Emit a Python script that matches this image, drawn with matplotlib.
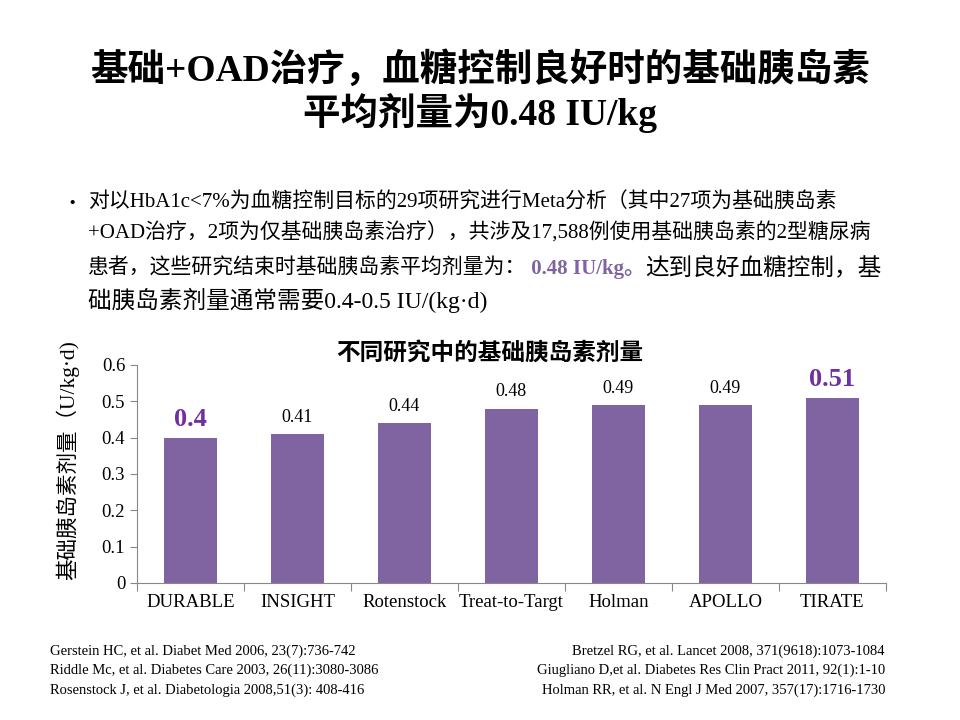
import matplotlib
matplotlib.use("Agg")
import matplotlib.pyplot as plt

# data
studies = ["DURABLE", "INSIGHT", "Rotenstock", "Treat-to-Targt", "Holman", "APOLLO", "TIRATE"]
doses = [0.4, 0.41, 0.44, 0.48, 0.49, 0.49, 0.51]
highlight = [True, False, False, False, False, False, True]
yticks = [0, 0.1, 0.2, 0.3, 0.4, 0.5, 0.6]
refs_left = ["Gerstein HC, et al. Diabet Med 2006, 23(7):736-742",
             "Riddle Mc, et al. Diabetes Care 2003, 26(11):3080-3086",
             "Rosenstock J, et al. Diabetologia 2008,51(3): 408-416"]
refs_right = ["Bretzel RG, et al. Lancet 2008, 371(9618):1073-1084",
              "Giugliano D,et al. Diabetes Res Clin Pract 2011, 92(1):1-10",
              "Holman RR, et al. N Engl J Med 2007, 357(17):1716-1730"]

FAM = ["Liberation Serif", "Noto Sans CJK SC"]
SANS = ["Noto Sans CJK SC", "DejaVu Sans"]
PURPLE = "#8064A2"
DARKP = "#7030A0"
plt.rcParams["font.family"] = FAM

fig = plt.figure(figsize=(9.6, 7.2), dpi=100)
bg = fig.add_axes([0, 0, 1, 1])
bg.set_axis_off()
bg.set_xlim(0, 960)
bg.set_ylim(720, 0)

# title
bg.text(480, 70, "基础+OAD治疗，血糖控制良好时的基础胰岛素", ha="center", va="center",
        fontsize=27, fontweight="bold")
bg.text(480, 113, "平均剂量为0.48 IU/kg", ha="center", va="center",
        fontsize=27, fontweight="bold")

# bullet text
bg.text(62, 203, "•", ha="left", va="center", fontsize=14, family=SANS)
bg.text(88, 203, "对以HbA1c<7%为血糖控制目标的29项研究进行Meta分析（其中27项为基础胰岛素",
        ha="left", va="center", fontsize=15)
bg.text(88, 233, "+OAD治疗，2项为仅基础胰岛素治疗），共涉及17,588例使用基础胰岛素的2型糖尿病",
        ha="left", va="center", fontsize=15)
t1 = bg.text(88, 274, "患者，这些研究结束时基础胰岛素平均剂量为：", ha="left", va="baseline",
             fontsize=15)
t2 = bg.annotate(" 0.48 IU/kg。", xy=(1, 0), xycoords=t1, va="bottom", ha="left",
                 fontsize=15, fontweight="bold", color=PURPLE)
bg.annotate("达到良好血糖控制，基", xy=(1, 0), xycoords=t2, va="bottom", ha="left",
            fontsize=17)
bg.text(88, 300, "础胰岛素剂量通常需要0.4-0.5 IU/(kg·d)", ha="left", va="center",
        fontsize=17)

# chart
ax = fig.add_axes([0.1427, 0.1903, 0.780, 0.3028])
x = range(len(studies))
ax.bar(x, doses, width=0.5, color=PURPLE)
for i, (v, hl) in enumerate(zip(doses, highlight)):
    if hl:
        ax.annotate(f"{v:g}", (i, v), xytext=(0, 5), textcoords="offset points",
                    ha="center", va="bottom", fontsize=19, fontweight="bold", color=DARKP)
    else:
        ax.annotate(f"{v:g}", (i, v), xytext=(0, 6), textcoords="offset points",
                    ha="center", va="bottom", fontsize=13)

ax.set_xlim(-0.5, len(studies) - 0.5)
ax.set_ylim(0, 0.6)
ax.set_yticks(yticks)
ax.set_yticklabels([f"{t:g}" for t in yticks], fontsize=13.5)
ax.set_xticks([i - 0.5 for i in range(len(studies) + 1)])
ax.set_xticklabels([])
ax.set_xticks(list(x), minor=True)
ax.set_xticklabels(studies, minor=True, fontsize=13.5)
ax.tick_params(axis="x", which="minor", length=0, pad=8)
ax.tick_params(axis="x", which="major", length=6, color="#888888")
ax.tick_params(axis="y", length=5, color="#888888")
for s in ["top", "right"]:
    ax.spines[s].set_visible(False)
for s in ["left", "bottom"]:
    ax.spines[s].set_color("#888888")

bg.text(490, 353, "不同研究中的基础胰岛素剂量", ha="center", va="center",
        fontsize=17, fontweight="bold", family=SANS)
bg.text(68, 460, "基础胰岛素剂量（U/kg·d)", ha="center", va="center", rotation=90,
        fontsize=15.5)

# references
for k, (l, r) in enumerate(zip(refs_left, refs_right)):
    yy = 651 + k * 19.5
    bg.text(50, yy, l, ha="left", va="center", fontsize=10.5)
    bg.text(885, yy, r, ha="right", va="center", fontsize=10.5)

fig.savefig("out.png", dpi=100)
